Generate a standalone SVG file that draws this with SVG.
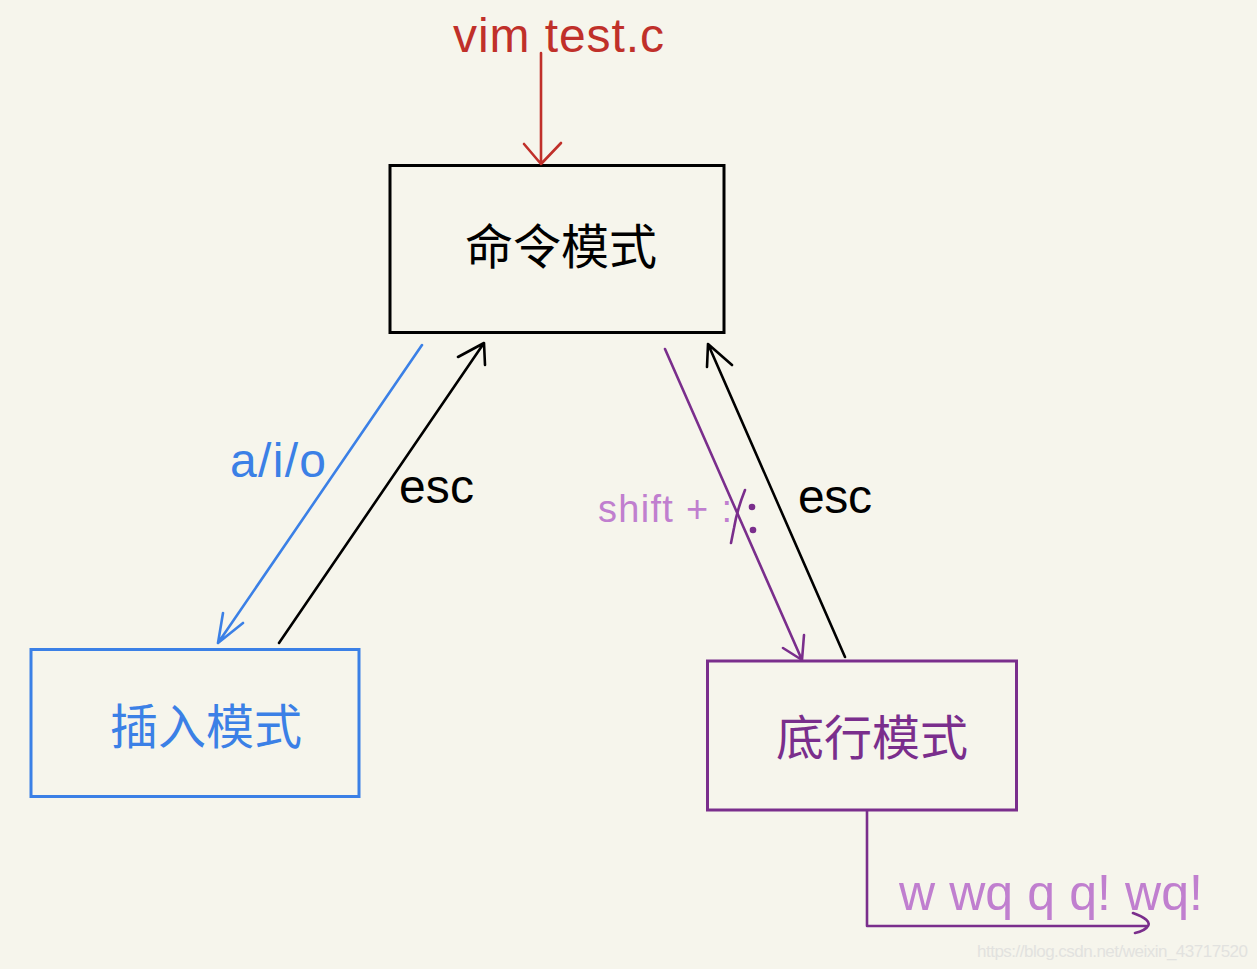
<svg xmlns="http://www.w3.org/2000/svg" width="1257" height="969" viewBox="0 0 1257 969">
<style>
.box{fill:none;stroke-width:3}
.ln{fill:none;stroke-width:2.6;stroke-linecap:round;stroke-linejoin:round}
.cn{font-family:"Noto Sans CJK SC","Noto Sans",sans-serif;font-size:48px;text-anchor:middle;dominant-baseline:central}
.lb{font-family:"Liberation Sans","Noto Sans",sans-serif}
</style>
<rect width="1257" height="969" fill="#f6f5ec"/>
<g id="cmd">
<rect class="box" x="390" y="165.5" width="334" height="167" stroke="#000"/>
<text class="cn" x="561" y="243" fill="#000">命令模式</text>
</g>
<g id="insert">
<rect class="box" x="31" y="649.5" width="328" height="147" stroke="#3b80e6"/>
<text class="cn" x="206" y="723" fill="#3b80e6">插入模式</text>
</g>
<g id="lastline">
<rect class="box" x="707.5" y="661" width="309" height="149" stroke="#7a2e8c"/>
<text class="cn" x="872" y="734" fill="#7a2e8c">底行模式</text>
</g>
<g id="connectors">
<path class="ln" stroke="#c0302a" d="M541 53 L541 164 M524 144 L541 164 L561 143"/>
<path class="ln" stroke="#3b80e6" d="M422 345 L218 643 M223 613 L218 643 L243 623"/>
<path class="ln" stroke="#000" d="M279 643 L484 343 M458 357 L484 343 L485 365"/>
<path class="ln" stroke="#7a2e8c" d="M665 349 L802 660 M783 648 L802 660 L804 635"/>
<path class="ln" stroke="#000" d="M845 657 L708 344 M707 367 L708 344 L732 365"/>
<path class="ln" stroke="#7a2e8c" d="M867 811 L867 926 L1148 926 M1133 913 Q1152 920 1148 926 Q1145 931 1135 933"/>
</g>
<g id="labels" class="lb">
<text x="453" y="52" font-size="48" fill="#c0302a" textLength="211">vim test.c</text>
<text x="230" y="477" font-size="48" fill="#3b80e6" textLength="96">a/i/o</text>
<text x="399" y="503" font-size="48" fill="#000" textLength="75">esc</text>
<text x="598" y="522" font-size="38" fill="#c07fcf" textLength="134">shift + :</text>
<path class="ln" stroke="#7a2e8c" stroke-width="3" d="M745 490 Q737 510 734 528 Q732 538 731 543"/>
<circle cx="752" cy="507" r="3.3" fill="#7a2e8c"/>
<circle cx="753" cy="530" r="3.3" fill="#7a2e8c"/>
<text x="798" y="513" font-size="48" fill="#000" textLength="74">esc</text>
<text x="899" y="910" font-size="50" fill="#c07fcf" textLength="304">w wq q q! wq!</text>
<text x="977" y="957" font-size="17" fill="#e2e2df" textLength="271">https://blog.csdn.net/weixin_43717520</text>
</g>
</svg>
